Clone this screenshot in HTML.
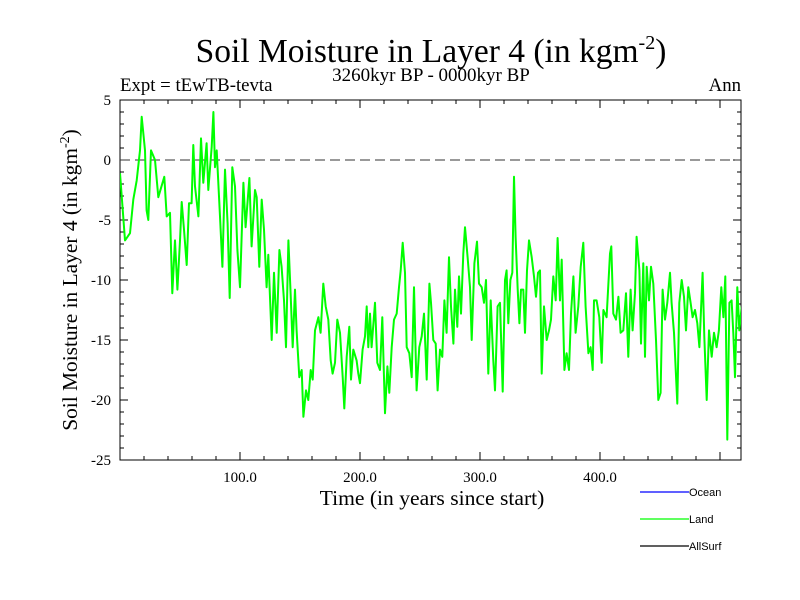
<!DOCTYPE html>
<html><head><meta charset="utf-8"><style>
html,body{margin:0;padding:0;background:#fff;}
svg{display:block;}
text{font-family:"Liberation Serif",serif;fill:#000;}
</style></head><body>
<svg id="chart" width="800" height="600" viewBox="0 0 800 600">
<text x="431" y="62" font-size="33.5" text-anchor="middle">Soil Moisture in Layer 4 (in kgm<tspan font-size="20" dy="-13">-2</tspan><tspan dy="13">)</tspan></text>
<text x="431" y="81" font-size="19" text-anchor="middle">3260kyr BP - 0000kyr BP</text>
<text x="120" y="91" font-size="18.8">Expt = tEwTB-tevta</text>
<text x="741" y="91" font-size="18.8" text-anchor="end">Ann</text>
<text transform="translate(77,280) rotate(-90)" font-size="21.4" text-anchor="middle">Soil Moisture in Layer 4 (in kgm<tspan font-size="14" dy="-8">-2</tspan><tspan dy="8">)</tspan></text>
<text x="432" y="505" font-size="21.6" text-anchor="middle">Time (in years since start)</text>
<g id="axes"></g>
<g id="series"></g>
<g id="legend"></g>
</svg>
<script>
const years=[0,4.2,8.3,11.1,13.9,16.7,18.1,20.8,22.2,23.6,25.8,29.2,31.9,36.9,38.9,41.7,43.6,45.8,47.8,50,51.4,53.3,55.6,57.5,59.7,61.1,62.5,65.3,67.5,69.4,72.2,73.6,76.4,77.8,79.2,80.6,83.3,85.3,87.5,89.7,91.4,93.6,95.8,97.8,100,102.8,104.7,107.8,109.7,112.5,113.9,116.1,118.1,120,122.2,123.6,126.4,128.3,130.6,132.8,134.7,136.7,138.3,140.3,142.2,143.9,145.8,147.2,149.4,151.4,152.8,155,156.9,158.9,160.6,162.5,165.3,167.2,169.4,171.4,173.6,175.6,177.2,179.2,181.1,183.3,185.6,186.9,188.9,191.1,192.5,194.4,197.2,198.6,200,202.2,204.2,205.6,206.9,208.3,209.7,212.5,214.4,216.7,218.6,220.8,222.8,224.4,226.4,228.3,230.6,232.5,233.9,235.6,237.5,238.9,241.1,243.1,245,247.2,249.4,251.4,253.3,255.6,257.8,259.2,261.1,263.1,264.7,266.7,268.6,270.3,272.2,274.2,275.8,277.8,279.2,281.1,282.5,284.2,286.1,287.5,289.7,291.7,293.1,295.3,297.5,299.2,301.4,303.3,305,306.9,308.9,311.1,312.5,314.7,316.7,318.9,320.8,322.2,323.6,325.3,326.9,328.3,329.7,331.4,332.8,334.2,336.1,337.5,339.2,340.8,343.1,345,346.7,348.3,350,351.4,353.3,355.6,357.5,359.2,361.1,363.1,364.7,366.7,368.1,370.3,372.2,374.2,375.8,377.8,379.7,381.9,383.9,386.1,388,390.3,392.2,393.9,395,397.2,399.4,401.4,402.8,405.5,408.3,409.4,411.1,413.3,415.3,417.2,419.4,421.7,423.6,425.5,427.2,429.2,430.5,432.8,434.2,436.1,437.5,438.9,440.8,442.5,444.4,446.7,448.6,450.5,452.2,454.2,456.1,458.3,459.7,461.7,464.4,466.1,468.1,470,471.7,473.6,475.5,477.2,479.2,481.1,482.8,485.5,486.9,488.9,490.8,493.1,495,497.2,499.1,501.1,502.8,504.4,506.1,507.8,509.7,511.1,512.5,514.4,516.1,518.1,519.4];
const landValues=[-1.1,-6.7,-6.1,-3.3,-1.7,0.8,3.6,0.8,-4.2,-5,0.8,0,-3.1,-1.4,-4.7,-4.4,-11.1,-6.7,-10.8,-6.7,-3.5,-5.8,-8.75,-3.6,-3.6,1.25,-2.2,-4.7,1.8,-1.9,1.4,-2.5,1.1,4,-0.6,0.8,-4.7,-8.9,-0.8,-5.3,-11.5,-0.6,-2.2,-7.5,-10.6,-1.9,-5.6,-1.5,-7.2,-2.5,-3.1,-8.9,-3.3,-5.8,-10.6,-7.9,-15,-9.4,-14.4,-7.5,-8.9,-11.7,-15.6,-6.7,-11.1,-15.6,-10.8,-14.2,-18.1,-17.5,-21.4,-19.2,-20,-17.5,-18.3,-14.2,-13.1,-14.4,-10.3,-12.2,-13.3,-16.7,-17.8,-16.9,-13.3,-14.4,-18.1,-20.7,-16.4,-13.9,-18.3,-15.8,-16.7,-17.8,-18.6,-15.8,-14.7,-12.2,-15.6,-12.8,-15.6,-11.9,-16.9,-17.5,-13.1,-21.1,-17.2,-19.4,-15.6,-13.3,-12.8,-10.6,-9.2,-6.9,-9.4,-15.6,-16.1,-18.1,-10.6,-19.2,-15.6,-14.7,-12.8,-18.3,-10.3,-11.9,-15,-15.3,-19.2,-15.8,-16.4,-11.7,-14.4,-8.1,-12.2,-15.3,-10.8,-13.9,-9.7,-12.8,-7.8,-5.6,-8.1,-10.6,-15,-8.6,-6.8,-10.3,-10.6,-11.9,-10,-17.8,-11.7,-16.7,-19.2,-12.2,-11.9,-19.3,-10,-9.2,-13.6,-10,-9.4,-1.4,-6.4,-10.8,-13.6,-10.8,-10.8,-14.4,-9.2,-6.7,-8.1,-9.7,-11.4,-9.4,-9.2,-17.8,-12.2,-15,-14.2,-13.3,-9.7,-11.7,-6.5,-11.7,-8.3,-17.5,-16.1,-17.5,-12.8,-9.7,-14.4,-12.2,-8.9,-6.9,-12.2,-16.1,-15.6,-17.5,-11.7,-11.7,-13.1,-16.9,-12.5,-13.1,-7.8,-7.2,-12.8,-13.3,-11.4,-14.4,-14.2,-11.1,-16.4,-10.8,-14.2,-11.1,-6.4,-9.2,-15.3,-8.6,-16.4,-8.9,-11.7,-8.9,-10.3,-15,-20,-19.4,-10.8,-13.3,-11.9,-9.4,-11.9,-14.4,-20.3,-11.9,-10,-11.4,-14.2,-10.6,-11.9,-13.1,-12.5,-13.6,-15.6,-9.4,-14.7,-20,-14.2,-16.4,-14.4,-15.6,-14.2,-10.6,-13.1,-9.7,-23.3,-11.9,-11.7,-14.4,-18.1,-10.6,-14.2,-12.2,-20.6];
const yTickValues=[5,0,-5,-10,-15,-20,-25];
const yTickLabels=["5","0","-5","-10","-15","-20","-25"];
const xTickValues=[100,200,300,400];
const xTickLabels=["100.0","200.0","300.0","400.0"];
const legendLabels=["Ocean","Land","AllSurf"];
const legendColors=["#0000ff","#00ff00","#000000"];

const NS="http://www.w3.org/2000/svg";
const L=120,R=741,T=100,B=460,XMIN=0,XMAX=517.5,YMIN=-25,YMAX=5;
const sx=v=>L+(v-XMIN)/(XMAX-XMIN)*(R-L);
const sy=v=>B-(v-YMIN)/(YMAX-YMIN)*(B-T);
function mk(tag,attrs,parent){const e=document.createElementNS(NS,tag);for(const k in attrs)e.setAttribute(k,attrs[k]);parent.appendChild(e);return e;}
const axes=document.getElementById('axes');
const frame=mk('rect',{x:L,y:T,width:R-L,height:B-T,fill:'none',stroke:'#000','stroke-width':1},axes);


for(let v=YMIN;v<=YMAX;v++){
  const major=(v%5===0);const len=major?8:4;const y=sy(v);
  const t1=mk('line',{x1:L,x2:L+len,y1:y,y2:y,stroke:'#000'},axes);
  
  
  const t2=mk('line',{x1:R,x2:R-len,y1:y,y2:y,stroke:'#000'},axes);
  
  
}
yTickValues.forEach((v,i)=>{
  const t=mk('text',{x:L-9,y:sy(v)+5,'font-size':15,'text-anchor':'end'},axes);
  t.textContent=yTickLabels[i];
  
  
});
for(let v=20;v<XMAX;v+=20){
  const major=(v%100===0);const len=major?8:4;const x=sx(v);
  const t1=mk('line',{x1:x,x2:x,y1:B,y2:B-len,stroke:'#000'},axes);
  
  
  const t2=mk('line',{x1:x,x2:x,y1:T,y2:T+len,stroke:'#000'},axes);
  
  
}
xTickValues.forEach((v,i)=>{
  const t=mk('text',{x:sx(v),y:B+22,'font-size':15,'text-anchor':'middle'},axes);
  t.textContent=xTickLabels[i];
  
  
});
const zero=mk('line',{x1:L,x2:R,y1:sy(0),y2:sy(0),stroke:'#333','stroke-dasharray':'10,5'},axes);



const series=document.getElementById('series');
const cp=mk('clipPath',{id:'clip'},series);
mk('rect',{x:L,y:T,width:R-L,height:B-T},cp);
let d='';years.forEach((yr,i)=>{d+=(i?'L':'M')+sx(yr).toFixed(1)+','+sy(landValues[i]).toFixed(1);});
const line=mk('path',{d:d,fill:'none',stroke:'#00ff00','stroke-width':2,'clip-path':'url(#clip)','stroke-linejoin':'round'},series);



const legend=document.getElementById('legend');
legendLabels.forEach((lab,i)=>{
  const y=492+i*27;
  const g=mk('g',{},legend);
  
  
  mk('line',{x1:640,x2:689,y1:y,y2:y,stroke:legendColors[i],'stroke-width':1.2},g);
  const t=mk('text',{x:689,y:y+4,'font-size':11,style:'font-family:"Liberation Sans",sans-serif'},g);
  t.textContent=lab;
});
</script>
</body></html>
